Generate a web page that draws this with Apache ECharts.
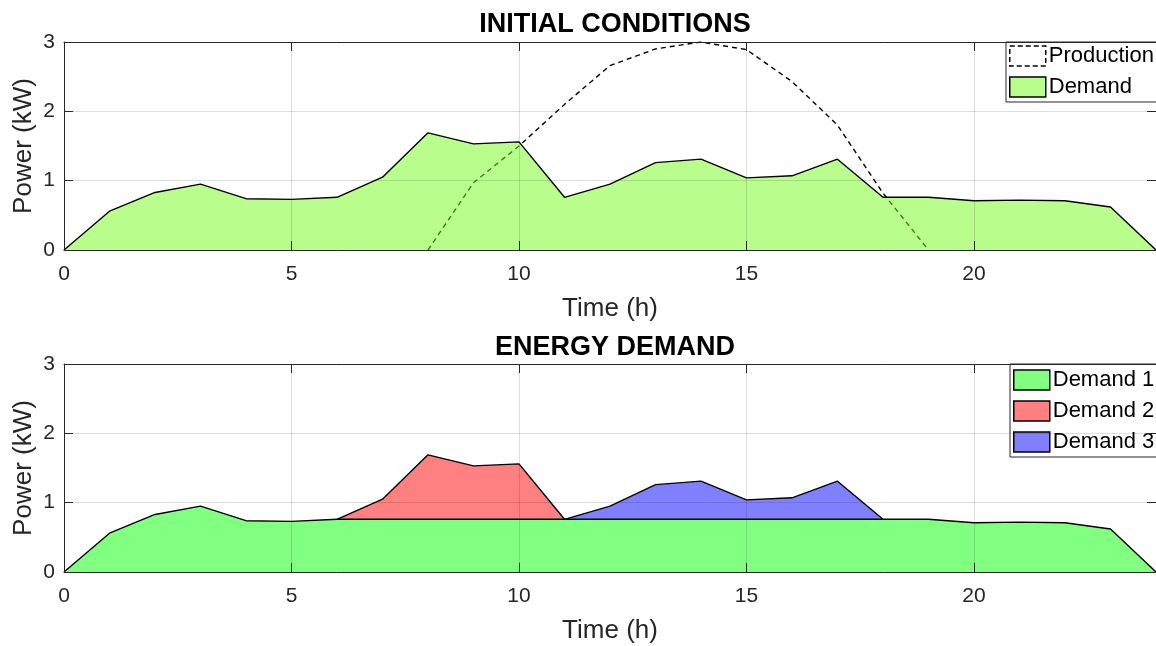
<!DOCTYPE html>
<html>
<head>
<meta charset="utf-8">
<script src="https://cdn.jsdelivr.net/npm/echarts@6/dist/echarts.min.js"></script>
<style>html,body{margin:0;padding:0;background:#fff}#c{width:1156px;height:646px}</style>
</head>
<body>
<div id="c"></div>
<script>
// ---- data ----
const hours = [0,1,2,3,4,5,6,7,8,9,10,11,12,13,14,15,16,17,18,19,20,21,22,23,24];
const demand = [0,0.56,0.83,0.95,0.74,0.73,0.76,1.05,1.69,1.53,1.56,0.76,0.95,1.26,1.31,1.04,1.07,1.31,0.76,0.76,0.71,0.72,0.71,0.62,0];
const prodHours = [8,9,10,11,12,13,14,15,16,17,18,19];
const production = [0,0.97,1.5,2.1,2.66,2.9,3.0,2.89,2.43,1.8,0.82,0];
const demand1 = [0,0.56,0.83,0.95,0.74,0.73,0.76,0.76,0.76,0.76,0.76,0.76,0.76,0.76,0.76,0.76,0.76,0.76,0.76,0.76,0.71,0.72,0.71,0.62,0];
const d2Hours = [6,7,8,9,10,11];
const demand2 = [0.76,1.05,1.69,1.53,1.56,0.76];
const d3Hours = [11,12,13,14,15,16,17,18];
const demand3 = [0.76,0.95,1.26,1.31,1.04,1.07,1.31,0.76];
const xTicks = [0,5,10,15,20];
const yTicks = [0,1,2,3];
const titles = ['INITIAL CONDITIONS','ENERGY DEMAND'];

const pairs = (xs, ys) => xs.map((x,i)=>[x, ys[i]]);
const FONT = 'Liberation Sans, Arial, Helvetica, sans-serif';
const AX = '#262626';

function xAxes(gi){
  return [{
    type:'value', gridIndex:gi, min:0, max:24, interval:5, z:5,
    name:'Time (h)', nameLocation:'middle', nameGap:46, nameMoveOverlap:false,
    nameTextStyle:{fontSize:26, color:AX, fontFamily:FONT},
    axisLine:{show:true, onZero:false, lineStyle:{color:AX, width:1}},
    axisTick:{show:true, inside:true, length:9, lineStyle:{color:AX}},
    axisLabel:{show:true, fontSize:21, color:AX, fontFamily:FONT, margin:14, showMaxLabel:false,
      formatter:v=> xTicks.includes(v) ? String(v) : ''},
    splitLine:{show:true, lineStyle:{color:'rgba(0,0,0,0.13)', width:1}}
  },{
    type:'value', gridIndex:gi, min:0, max:24, interval:5, position:'top', z:5,
    axisLine:{show:true, onZero:false, lineStyle:{color:AX, width:1}},
    axisTick:{show:true, inside:true, length:9, lineStyle:{color:AX}},
    axisLabel:{show:false}, splitLine:{show:false}
  }];
}
function yAxes(gi){
  return [{
    type:'value', gridIndex:gi, min:0, max:3, interval:1, z:5,
    name:'Power (kW)', nameLocation:'middle', nameGap:27, nameMoveOverlap:false,
    nameTextStyle:{fontSize:26, color:AX, fontFamily:FONT},
    axisLine:{show:true, onZero:false, lineStyle:{color:AX, width:1}},
    axisTick:{show:true, inside:true, length:9, lineStyle:{color:AX}},
    axisLabel:{show:true, fontSize:21, color:AX, fontFamily:FONT, margin:9,
      formatter:v=> yTicks.includes(v) ? String(v) : ''},
    splitLine:{show:true, lineStyle:{color:'rgba(0,0,0,0.13)', width:1}}
  },{
    type:'value', gridIndex:gi, min:0, max:3, interval:1, position:'right', z:5,
    axisLine:{show:true, onZero:false, lineStyle:{color:AX, width:1}},
    axisTick:{show:true, inside:true, length:9, lineStyle:{color:AX}},
    axisLabel:{show:false}, splitLine:{show:false}
  }];
}

function area(name, xs, ys, fill, xi, yi, op){
  return {
    name, type:'line', xAxisIndex:xi, yAxisIndex:yi, data:pairs(xs, ys),
    showSymbol:false, symbol:'none', silent:true, animation:false, z:2,
    itemStyle:{color:fill},
    lineStyle:{color:'#000', width:1.4},
    areaStyle:{color:fill, opacity:op, origin:'start'}
  };
}

const legendCommon = {
  orient:'vertical', icon:'rect', itemWidth:36, itemHeight:20, itemGap:9,
  backgroundColor:'#fff', borderColor:AX, borderWidth:1, borderRadius:0,
  textStyle:{fontSize:22, color:'#000', fontFamily:FONT, padding:[2,0,0,-2]},
  itemStyle:{borderColor:'#000', borderWidth:1.5},
  selectedMode:false
};

const option = {
  backgroundColor:'#fff',
  animation:false,
  title: [
    {text:titles[0], left:610, textAlign:'center', top:6, textStyle:{fontSize:27, fontWeight:'bold', color:'#000', fontFamily:FONT}},
    {text:titles[1], left:610, textAlign:'center', top:329, textStyle:{fontSize:27, fontWeight:'bold', color:'#000', fontFamily:FONT}}
  ],
  grid: [
    {left:64, right:0, top:42, height:208},
    {left:64, right:0, top:364, height:208}
  ],
  xAxis: [...xAxes(0), ...xAxes(1)],
  yAxis: [...yAxes(0), ...yAxes(1)],
  legend: [
    Object.assign({}, legendCommon, {left:1006, top:42, padding:[3,6,4,3],
      data:[
        {name:'Production', itemStyle:{color:'#fff', borderColor:'#000', borderType:[5,3], borderWidth:1.5}},
        {name:'Demand', itemStyle:{color:'#b9fd8c'}}
      ]}),
    Object.assign({}, legendCommon, {left:1010, top:364, padding:[5,6,4,3],
      data:[{name:'Demand 1'},{name:'Demand 2'},{name:'Demand 3'}]})
  ],
  series: [
    {
      name:'Production', type:'line', xAxisIndex:0, yAxisIndex:0, data:pairs(prodHours, production),
      showSymbol:false, symbol:'none', silent:true, z:1,
      itemStyle:{color:'#fff'},
      lineStyle:{color:'#000', width:1.4, type:[5,4]}
    },
    area('Demand', hours, demand, '#73fb19', 0, 0, 0.5),
    area('Demand 2', d2Hours, demand2, '#ff8080', 2, 2, 1),
    area('Demand 3', d3Hours, demand3, '#8080ff', 2, 2, 1),
    area('Demand 1', hours, demand1, '#80ff80', 2, 2, 1)
  ]
};

const chart = echarts.init(document.getElementById('c'), null, {renderer:'canvas'});
chart.setOption(option);
</script>
</body>
</html>
